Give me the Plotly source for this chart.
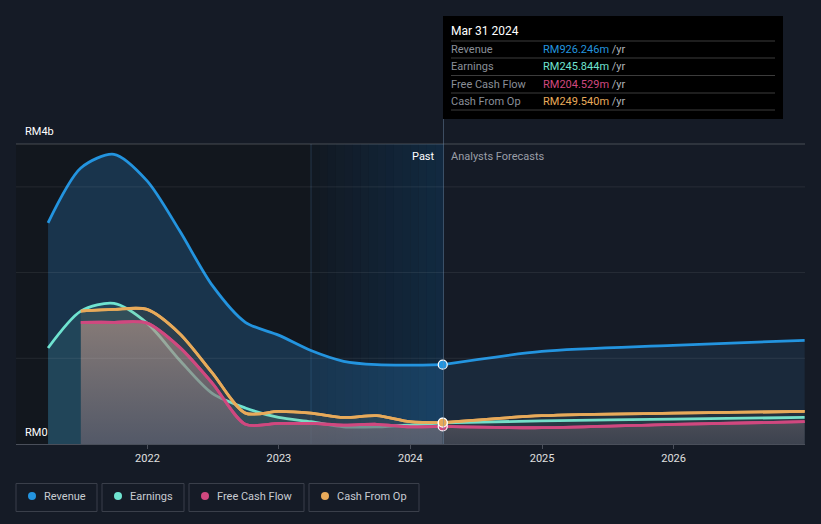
import plotly.graph_objects as go

# ---------------- data (RM billions) ----------------
past_dates = ["2021-03-31", "2021-06-30", "2021-09-30", "2021-12-31",
              "2022-03-31", "2022-06-30", "2022-09-30", "2022-12-31",
              "2023-03-31", "2023-06-30", "2023-09-30", "2023-12-31",
              "2024-03-31"]
fc_dates = ["2024-03-31", "2024-12-31", "2025-12-31", "2026-12-31"]

revenue_past = [2.58, 3.22, 3.38, 3.07, 2.49, 1.85, 1.42, 1.27, 1.09, 0.965, 0.925, 0.92, 0.926]
earnings_past = [1.12, 1.55, 1.64, 1.41, 0.98, 0.59, 0.42, 0.31, 0.26, 0.20, 0.20, 0.22, 0.246]
fcf_past = [None, 1.42, 1.42, 1.41, 1.13, 0.71, 0.23, 0.24, 0.24, 0.22, 0.23, 0.20, 0.2045]
cfo_past = [None, 1.55, 1.57, 1.57, 1.29, 0.83, 0.36, 0.38, 0.36, 0.31, 0.33, 0.26, 0.2495]

revenue_fc = [0.926, 1.08, 1.15, 1.21]
earnings_fc = [0.246, 0.27, 0.29, 0.31]
fcf_fc = [0.2045, 0.19, 0.23, 0.26]
cfo_fc = [0.2495, 0.33, 0.36, 0.38]

year_ticks = ["2022-01-01", "2023-01-01", "2024-01-01", "2025-01-01", "2026-01-01"]
year_labels = ["2022", "2023", "2024", "2025", "2026"]

series_names = ["Revenue", "Earnings", "Free Cash Flow", "Cash From Op"]
series_colors = ["#2394df", "#6fe3d0", "#d0487f", "#e8aa5a"]
tooltip_date = "Mar 31 2024"
tooltip_values = ["RM926.246m", "RM245.844m", "RM204.529m", "RM249.540m"]

# ---------------- layout helpers ----------------
W, H = 821, 524
L, R, T, B = 16, 805, 144, 444
YMAX = 3.5


def px(x):
    return (x - L) / (R - L)


def py(y):
    return (B - y) / (B - T)


BG = "#151b26"
font = "Roboto, Open Sans, sans-serif"

fig = go.Figure()

past_vals = [revenue_past, earnings_past, fcf_past, cfo_past]
fc_vals = [revenue_fc, earnings_fc, fcf_fc, cfo_fc]

past_fill = {
    "Revenue": dict(fillcolor="rgba(40,115,175,0.32)"),
    "Earnings": dict(fillcolor="rgba(111,227,208,0.10)"),
    "Cash From Op": dict(fillcolor="rgba(210,170,100,0.10)"),
    "Free Cash Flow": dict(fillgradient=dict(
        type="vertical", start=0, stop=1.42,
        colorscale=[[0, "rgba(103,95,112,0.62)"], [1, "rgba(183,148,137,0.62)"]])),
}
fc_fill = {
    "Revenue": dict(fillcolor="rgba(60,130,180,0.15)"),
    "Earnings": dict(fillcolor="rgba(111,227,208,0.05)"),
    "Cash From Op": dict(fillcolor="rgba(210,170,100,0.06)"),
    "Free Cash Flow": dict(fillgradient=dict(
        type="vertical", start=0, stop=0.26,
        colorscale=[[0, "rgba(64,68,80,0.85)"], [1, "rgba(80,80,90,0.85)"]])),
}

line_kw = dict(width=2.8, shape="spline", smoothing=0.8)
order = [0, 1, 3, 2]
for i in order:
    name = series_names[i]
    # past: fill + line (earnings line shows through the later cash-flow fill)
    fig.add_trace(go.Scatter(
        x=past_dates, y=past_vals[i], mode="lines",
        line=dict(color=series_colors[i], **line_kw),
        fill="tozeroy", showlegend=False, hoverinfo="skip", connectgaps=False,
        **past_fill[name]))
    fig.add_trace(go.Scatter(
        x=fc_dates, y=fc_vals[i], mode="lines",
        line=dict(color=series_colors[i], **line_kw),
        fill="tozeroy", showlegend=False, hoverinfo="skip",
        **fc_fill[name]))

# re-draw the cash-flow lines on top
for i in [3, 2]:
    for xs, ys in [(past_dates, past_vals[i]), (fc_dates, fc_vals[i])]:
        fig.add_trace(go.Scatter(
            x=xs, y=ys, mode="lines", line=dict(color=series_colors[i], **line_kw),
            showlegend=False, hoverinfo="skip"))

# markers at the tooltip date
for i in [0, 1, 2, 3]:
    fig.add_trace(go.Scatter(
        x=[fc_dates[0]], y=[fc_vals[i][0]], mode="markers",
        marker=dict(color=series_colors[i], size=9, line=dict(color="white", width=1.2)),
        showlegend=False, hoverinfo="skip"))

shapes = []
# past darker region
shapes.append(dict(type="rect", xref="paper", yref="paper", x0=0, x1=px(443.5), y0=0, y1=1,
                   fillcolor="#12171e", line_width=0, layer="below"))
# highlight band (last year) as a stepped gradient
n = 16
x_start, x_end = 311, 443.5
for k in range(n):
    a = 0.04 + 0.5 * (k + 1) / n
    shapes.append(dict(type="rect", xref="paper", yref="paper",
                       x0=px(x_start + (x_end - x_start) * k / n),
                       x1=px(x_start + (x_end - x_start) * (k + 1) / n),
                       y0=0, y1=1, fillcolor=f"rgba(18,58,95,{a:.3f})", line_width=0, layer="below"))
shapes.append(dict(type="line", xref="paper", yref="paper", x0=px(311), x1=px(311), y0=0, y1=1,
                   line=dict(color="rgba(70,110,150,0.35)", width=1), layer="below"))
# grid lines drawn over the fills
for gv in [1, 2, 3]:
    shapes.append(dict(type="line", xref="paper", yref="y", x0=0, x1=1, y0=gv, y1=gv,
                       line=dict(color="rgba(255,255,255,0.08)", width=1), layer="above"))
# top border line
shapes.append(dict(type="line", xref="paper", yref="paper", x0=0, x1=1, y0=1, y1=1,
                   line=dict(color="rgba(255,255,255,0.22)", width=1), layer="below"))
# vertical line at tooltip date
shapes.append(dict(type="line", xref="paper", yref="paper", x0=px(443.5), x1=px(443.5),
                   y0=0, y1=py(119), line=dict(color="rgba(110,140,170,0.45)", width=1)))

# tooltip box
shapes.append(dict(type="rect", xref="paper", yref="paper", x0=px(443), x1=px(783),
                   y0=py(119), y1=py(16), fillcolor="#000000", line_width=0))
for yy in [41, 58, 75.5, 93, 110]:
    shapes.append(dict(type="line", xref="paper", yref="paper", x0=px(451), x1=px(775),
                       y0=py(yy), y1=py(yy), line=dict(color="#3c3c3c", width=1)))

annotations = []
annotations.append(dict(xref="paper", yref="paper", x=px(449), y=py(31), text=tooltip_date,
                        showarrow=False, xanchor="left", yanchor="middle",
                        font=dict(color="white", size=12, family=font)))
for j, yy in enumerate([49, 66, 84, 101]):
    annotations.append(dict(xref="paper", yref="paper", x=px(449), y=py(yy), text=series_names[j],
                            showarrow=False, xanchor="left", yanchor="middle",
                            font=dict(color="#8a8f98", size=11, family=font)))
    annotations.append(dict(xref="paper", yref="paper", x=px(541), y=py(yy),
                            text=f"<span style='color:{series_colors[j]}'>{tooltip_values[j]}</span>"
                                 f"<span style='color:#aeb2b8'> /yr</span>",
                            showarrow=False, xanchor="left", yanchor="middle",
                            font=dict(size=11, family=font)))

# y labels
annotations.append(dict(xref="paper", yref="paper", x=px(23), y=py(131), text="RM4b",
                        showarrow=False, xanchor="left", yanchor="middle",
                        font=dict(color="white", size=11, family=font)))
annotations.append(dict(xref="paper", yref="paper", x=px(23), y=py(432), text="RM0",
                        showarrow=False, xanchor="left", yanchor="middle",
                        font=dict(color="white", size=11, family=font)))
# past / forecast labels
annotations.append(dict(xref="paper", yref="paper", x=px(437), y=py(156), text="Past",
                        showarrow=False, xanchor="right", yanchor="middle",
                        font=dict(color="white", size=11, family=font)))
annotations.append(dict(xref="paper", yref="paper", x=px(449), y=py(156), text="Analysts Forecasts",
                        showarrow=False, xanchor="left", yanchor="middle",
                        font=dict(color="#9a9ea6", size=11, family=font)))

# custom legend
boxes = [(16, 97), (102, 184), (189, 304), (309, 419)]
dots = [32, 118, 205, 325]
for j, (x0, x1) in enumerate(boxes):
    shapes.append(dict(type="rect", xref="paper", yref="paper", x0=px(x0), x1=px(x1),
                       y0=py(511.5), y1=py(483.5), line=dict(color="#3a3f4a", width=1),
                       fillcolor="rgba(0,0,0,0)"))
    shapes.append(dict(type="circle", xref="paper", yref="paper", x0=px(dots[j] - 4), x1=px(dots[j] + 4),
                       y0=py(500), y1=py(492), fillcolor=series_colors[j], line_width=0))
    annotations.append(dict(xref="paper", yref="paper", x=px(dots[j] + 10), y=py(496),
                            text=series_names[j], showarrow=False, xanchor="left", yanchor="middle",
                            font=dict(color="#c8ccd2", size=11, family=font)))

fig.update_layout(
    width=W, height=H,
    margin=dict(l=L, r=W - R, t=T, b=H - B),
    paper_bgcolor=BG, plot_bgcolor=BG,
    showlegend=False,
    shapes=shapes, annotations=annotations,
    font=dict(family=font, color="white", size=11),
    xaxis=dict(type="date", range=["2021-01-01", "2027-01-01"], tickvals=year_ticks,
               ticktext=year_labels, showgrid=False, zeroline=False, showline=True,
               linecolor="#4a4f5a", linewidth=1, ticks="outside", ticklen=4, tickcolor="#4a4f5a",
               tickfont=dict(color="#e0e0e0", size=11, family=font), fixedrange=True),
    yaxis=dict(range=[0, YMAX], showticklabels=False, showgrid=False,
               zeroline=False, showline=False, fixedrange=True),
)

fig.write_html(
    "out.html",
    config={"displayModeBar": False},
    post_script="document.body.style.margin='0';document.body.style.overflow='hidden';"
                "document.body.style.background='" + BG + "';",
)
